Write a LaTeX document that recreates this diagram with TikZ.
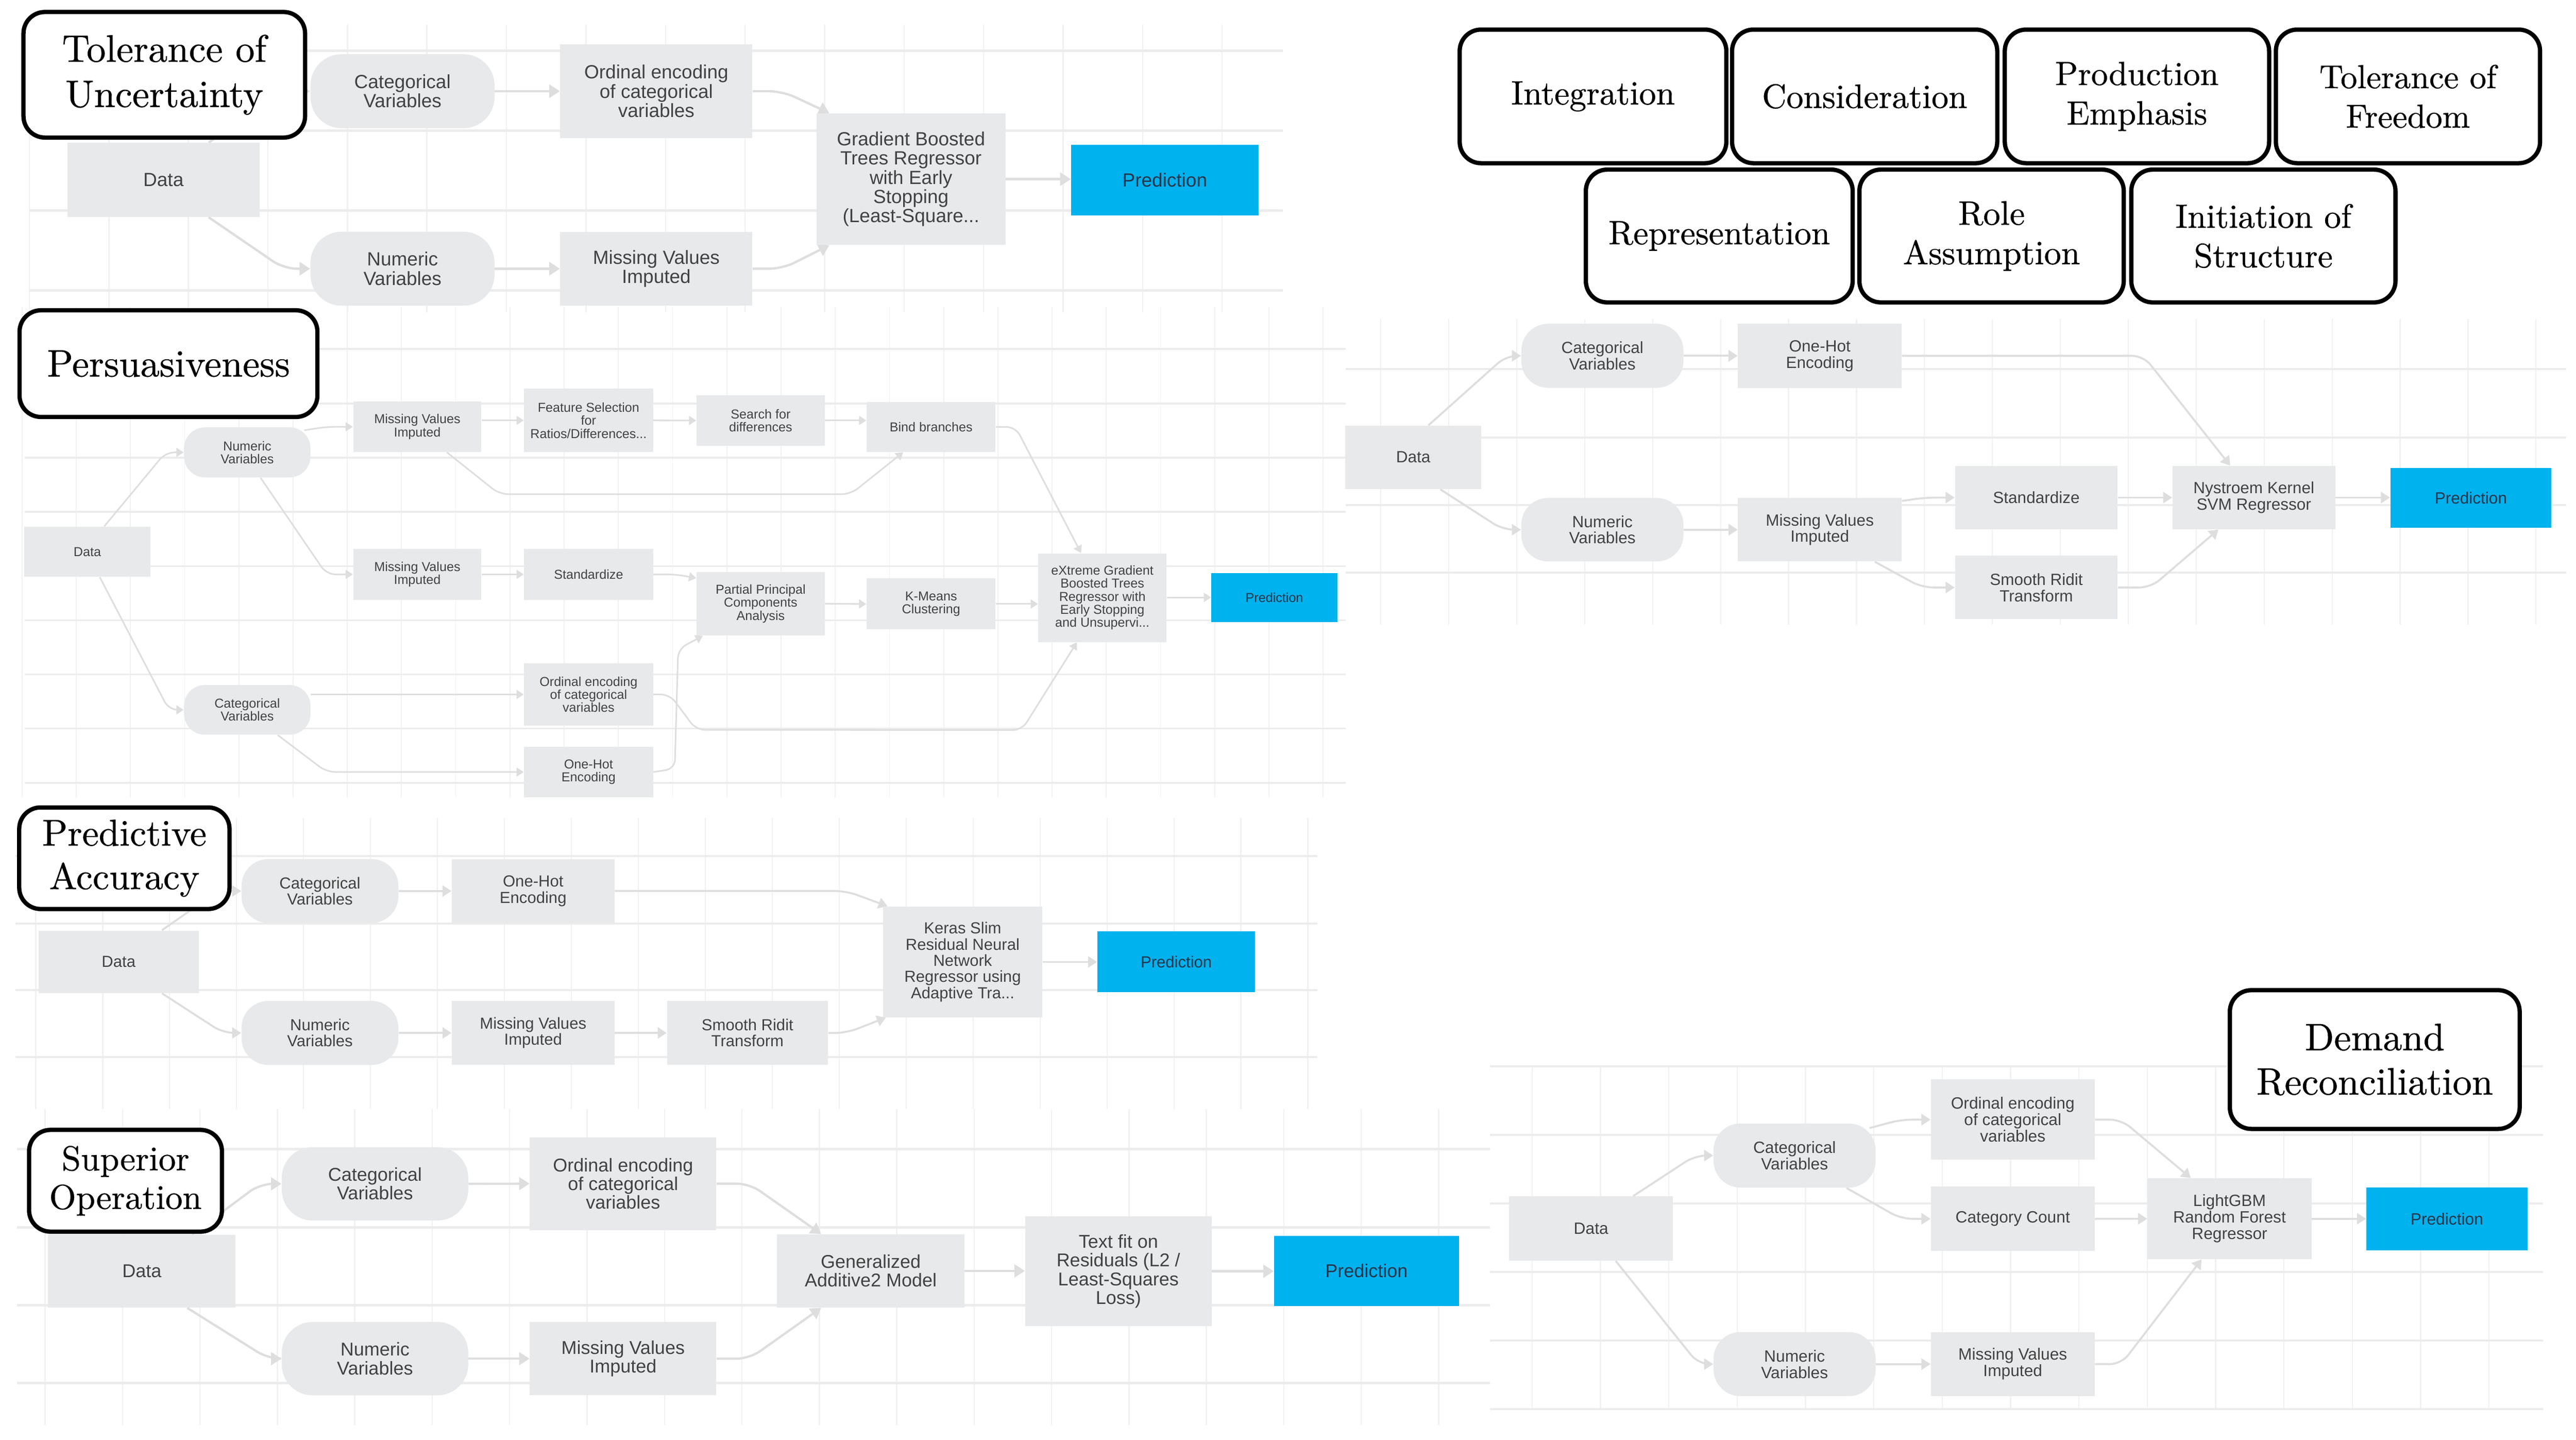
\documentclass[tikz,border=0pt]{standalone}
\usepackage{fontspec}
\setsansfont{Liberation Sans}
\newfontfamily\ttlfont{lmroman10-regular.otf}[FakeBold=0.6]
\usetikzlibrary{arrows.meta,calc}
\definecolor{nodefill}{RGB}{232,233,235}
\definecolor{predfill}{RGB}{0,178,238}
\definecolor{txt}{RGB}{66,66,66}
\definecolor{predtxt}{RGB}{35,52,72}
\definecolor{connc}{RGB}{222,222,222}
\definecolor{gridh}{RGB}{236,236,236}
\definecolor{gridv}{RGB}{241,241,241}
\pgfdeclarelayer{gridlayer}
\pgfdeclarelayer{connlayer}
\pgfsetlayers{gridlayer,connlayer,main}
\newcommand\setpanel[1]{%
 \pgfmathsetmacro\fs{11.6*#1}%
 \pgfmathsetmacro\bs{11.7*#1}%
 \pgfmathsetmacro\alen{6.5*#1}%
 \pgfmathsetmacro\awid{8*#1}%
 \pgfmathsetmacro\clw{1.4*#1}%
 \pgfmathsetmacro\hlw{1.6*#1}%
 \pgfmathsetmacro\vlw{0.8*#1}%
 \pgfmathsetmacro\rcr{8*#1}}
\newcommand\nb[7]{%
 \pgfmathsetmacro\cxx{(#3+#5)/2}%
 \pgfmathsetmacro\cyy{(#4+#6)/2}%
 \pgfmathsetmacro\ww{#5-#3}%
 \pgfmathsetmacro\hh{#6-#4}%
 \pgfmathsetmacro\rr{0.42*(#6-#4)}%
 \node[#2, minimum width=\ww pt, minimum height=\hh pt] (#1) at (\cxx,\cyy) {#7};}
\newcommand\tb[8]{%
 \pgfmathsetmacro\cxx{(#2+#4)/2}%
 \pgfmathsetmacro\cyy{(#3+#5)/2}%
 \pgfmathsetmacro\ww{#4-#2-2.6}%
 \pgfmathsetmacro\hh{#5-#3-2.6}%
 \node[titlebox, minimum width=\ww pt, minimum height=\hh pt, font=\ttlfont\fontsize{#6}{#7}\selectfont] (#1) at (\cxx,\cyy) {#8};}
\tikzset{
 gbox/.style={fill=nodefill, text=txt, inner sep=0pt, align=center, font=\fontsize{\fs}{\bs}\selectfont\sffamily},
 pill/.style={gbox, rounded corners=\rr pt},
 pred/.style={gbox, fill=predfill, text=predtxt},
 conn/.style={draw=connc, line width=\clw pt, rounded corners=\rcr pt, -{Triangle[length=\alen pt, width=\awid pt]}},
 gh/.style={draw=gridh, line width=\hlw pt},
 gv/.style={draw=gridv, line width=\vlw pt},
 titlebox/.style={draw=black, fill=white, line width=2.6pt, rounded corners=13pt, align=center, inner sep=0pt, text=black},
}
\begin{document}
\begin{tikzpicture}[x=1pt,y=-1pt]
\useasboundingbox (0,0) rectangle (1568,876);
\begin{pgfonlayer}{gridlayer}
\fill[white] (0,0) rectangle (1568,876);
\end{pgfonlayer}

% ================= Panel 1 =================
\setpanel{1}
\begin{pgfonlayer}{gridlayer}
\foreach \k in {0,...,15}{\pgfmathsetmacro\xx{17.9+48.4*\k}\draw[gv] (\xx,15) -- (\xx,190);}
\foreach \y in {31,79.6,128.2,176.8}{\draw[gh] (18,\y) -- (781,\y);}
\end{pgfonlayer}
\nb{p1cat}{pill}{189}{33}{301}{78}{Categorical\\Variables}
\nb{p1ord}{gbox}{341}{27}{458}{84}{Ordinal encoding\\of categorical\\variables}
\nb{p1data}{gbox}{41}{87}{158}{132}{Data}
\nb{p1gb}{gbox}{497}{69}{612}{149}{Gradient Boosted\\Trees Regressor\\with Early\\Stopping\\(Least-Square...}
\nb{p1pred}{pred}{652}{88}{766}{131}{Prediction}
\nb{p1num}{pill}{189}{141}{301}{186}{Numeric\\Variables}
\nb{p1mvi}{gbox}{341}{141}{458}{186}{Missing Values\\Imputed}
\begin{pgfonlayer}{connlayer}
\draw[conn] ([xshift=27.5]p1data.north) -- ($(p1cat.west)+(-17,0)$) -- (p1cat.west);
\draw[conn] ([xshift=27.5]p1data.south) -- ($(p1num.west)+(-16,0)$) -- (p1num.west);
\draw[conn] (p1cat.east) -- (p1ord.west);
\draw[conn] (p1num.east) -- (p1mvi.west);
\draw[conn] (p1ord.east) -- ($(p1ord.east)+(18,0)$) -- ([xshift=8]p1gb.north west);
\draw[conn] (p1mvi.east) -- ($(p1mvi.east)+(18,0)$) -- ([xshift=8]p1gb.south west);
\draw[conn] (p1gb.east) -- (p1gb.east -| p1pred.west);
\end{pgfonlayer}
\tb{t1}{13}{6}{187}{85}{23.3}{27.5}{Tolerance of\\Uncertainty}

% ================= Panel 2 =================
\setpanel{0.68}
\begin{pgfonlayer}{gridlayer}
\foreach \k in {0,...,24}{\pgfmathsetmacro\xx{13.4+33*\k}\draw[gv] (\xx,187) -- (\xx,485);}
\foreach \y in {212.3,245.6,278.5,311.4,344.5,377.4,410.3,443.2,476.3}{\draw[gh] (15,\y) -- (819,\y);}
\end{pgfonlayer}
\nb{p2num}{pill}{112}{260}{189}{290.5}{Numeric\\Variables}
\nb{p2mvia}{gbox}{215}{244.4}{293}{275}{Missing Values\\Imputed}
\nb{p2fs}{gbox}{319}{236.6}{397.5}{275}{Feature Selection\\for\\Ratios/Differences...}
\nb{p2srch}{gbox}{424}{240.4}{502}{271.3}{Search for\\differences}
\nb{p2bind}{gbox}{527.5}{244.6}{606}{275}{Bind branches}
\nb{p2data}{gbox}{14.8}{320.5}{91.5}{351}{Data}
\nb{p2mvib}{gbox}{215}{334}{293}{365}{Missing Values\\Imputed}
\nb{p2std}{gbox}{319}{334}{397.5}{365}{Standardize}
\nb{p2ppca}{gbox}{424}{348}{502}{386.7}{Partial Principal\\Components\\Analysis}
\nb{p2km}{gbox}{527.5}{352}{606}{383}{K-Means\\Clustering}
\nb{p2xgb}{gbox}{632}{336.7}{710}{390.6}{eXtreme Gradient\\Boosted Trees\\Regressor with\\Early Stopping\\and Unsupervi...}
\nb{p2pred}{pred}{737.4}{348.6}{814}{378.4}{Prediction}
\nb{p2cat}{pill}{112}{416.8}{189}{447}{Categorical\\Variables}
\nb{p2ord}{gbox}{319}{403.5}{397.5}{441.6}{Ordinal encoding\\of categorical\\variables}
\nb{p2oh}{gbox}{319}{454.5}{397.5}{485}{One-Hot\\Encoding}
\begin{pgfonlayer}{connlayer}
\draw[conn] ([xshift=10.3]p2data.north) -- ($(p2num.west)+(-11,0)$) -- (p2num.west);
\draw[conn] ([xshift=7.6]p2data.south) -- ($(p2cat.west)+(-9,0)$) -- (p2cat.west);
\draw[conn] ([xshift=-4,yshift=-2]p2num.north east) -- ($(p2mvia.west)+(-16,0)$) -- (p2mvia.west);
\draw[conn] ([xshift=8.1]p2num.south) -- ($(p2mvib.west)+(-16,0)$) -- (p2mvib.west);
\draw[conn] (p2mvia.east |- p2fs.west) -- (p2fs.west);
\draw[conn] (p2fs.east) -- (p2srch.west);
\draw[conn] (p2srch.east) -- (p2srch.east -| p2bind.west);
\draw[conn] ([xshift=18]p2mvia.south) -- ($(p2mvia.south)+(50,25.5)$) -- ($(p2bind.south)+(-49,25.5)$) -- ([xshift=-17]p2bind.south);
\draw[conn] (p2bind.east) -- ($(p2bind.east)+(12,0)$) -- ([xshift=-13]p2xgb.north);
\draw[conn] (p2mvib.east) -- (p2std.west);
\draw[conn] (p2std.east) -- ($(p2std.east)+(14,0)$) -- ([yshift=-4]p2ppca.north west);
\draw[conn] (p2ppca.east) -- (p2km.west);
\draw[conn] (p2km.east) -- (p2km.east -| p2xgb.west);
\draw[conn] (p2xgb.east |- p2pred.west) -- (p2pred.west);
\draw[conn] (p2cat.east |- p2ord.west) -- (p2ord.west);
\draw[conn] ([xshift=18.5]p2cat.south) -- ($(p2oh.west)+(-120,0)$) -- (p2oh.west);
\draw[conn] (p2ord.east) -- ($(p2ord.east)+(10,0)$) -- ($(p2ord.east)+(26,21.5)$) -- ($(p2xgb.south)+(-49,53.4)$) -- ([xshift=-15.5]p2xgb.south);
\draw[conn] (p2oh.east) -- ($(p2oh.east)+(13,-2)$) -- ($(p2ppca.south west)+(-11,8)$) -- ([xshift=4]p2ppca.south west);
\end{pgfonlayer}
\tb{t2}{10.6}{187.5}{194.5}{255}{23.3}{27.5}{Persuasiveness}

% ================= Panel 3 =================
\setpanel{0.84}
\begin{pgfonlayer}{gridlayer}
\foreach \k in {0,...,19}{\pgfmathsetmacro\xx{21.8+40.75*\k}\draw[gv] (\xx,497.6) -- (\xx,675);}
\foreach \y in {520.8,561.9,602.5,643.2}{\draw[gh] (9.3,\y) -- (802,\y);}
\end{pgfonlayer}
\nb{p3cat}{pill}{147}{522.7}{242.5}{561.6}{Categorical\\Variables}
\nb{p3oh}{gbox}{275}{522.7}{374}{561.6}{One-Hot\\Encoding}
\nb{p3data}{gbox}{23.4}{566.2}{121}{604.2}{Data}
\nb{p3keras}{gbox}{537.4}{551.6}{634.5}{619}{Keras Slim\\Residual Neural\\Network\\Regressor using\\Adaptive Tra...}
\nb{p3pred}{pred}{668}{566.7}{764}{603.7}{Prediction}
\nb{p3num}{pill}{147}{609}{242.5}{648}{Numeric\\Variables}
\nb{p3mvi}{gbox}{275}{609}{374}{648}{Missing Values\\Imputed}
\nb{p3sr}{gbox}{406}{609}{504}{648}{Smooth Ridit\\Transform}
\begin{pgfonlayer}{connlayer}
\draw[conn] ([xshift=26.4]p3data.north) -- ($(p3cat.west)+(-14,0)$) -- (p3cat.west);
\draw[conn] ([xshift=26.4]p3data.south) -- ($(p3num.west)+(-11,0)$) -- (p3num.west);
\draw[conn] (p3cat.east) -- (p3oh.west);
\draw[conn] (p3oh.east) -- ($(p3oh.east)+(141,0)$) -- ([xshift=3]p3keras.north west);
\draw[conn] (p3num.east) -- (p3mvi.west);
\draw[conn] (p3mvi.east) -- (p3sr.west);
\draw[conn] (p3sr.east) -- ($(p3sr.east)+(11,0)$) -- ([xshift=2]p3keras.south west);
\draw[conn] (p3keras.east) -- (p3keras.east -| p3pred.west);
\end{pgfonlayer}
\tb{t3}{10.4}{490}{141}{554.4}{22.7}{26.5}{Predictive\\Accuracy}

% ================= Panel 4 =================
\setpanel{0.973}
\begin{pgfonlayer}{gridlayer}
\foreach \k in {0,...,18}{\pgfmathsetmacro\xx{27.5+47.12*\k}\draw[gv] (\xx,675) -- (\xx,867);}
\foreach \y in {699.3,746.8,794.1,841.5}{\draw[gh] (10.5,\y) -- (907,\y);}
\end{pgfonlayer}
\nb{p4cat}{pill}{171.5}{698}{285}{742.6}{Categorical\\Variables}
\nb{p4ord}{gbox}{322.5}{692}{436}{748.4}{Ordinal encoding\\of categorical\\variables}
\nb{p4data}{gbox}{29.3}{751.3}{143.4}{795.6}{Data}
\nb{p4gam}{gbox}{473}{751}{587}{795.6}{Generalized\\Additive2 Model}
\nb{p4tf}{gbox}{624}{740}{737.5}{807}{Text fit on\\Residuals (L2 /\\Least-Squares\\Loss)}
\nb{p4pred}{pred}{775.5}{752}{888}{794.7}{Prediction}
\nb{p4num}{pill}{171.5}{804.4}{285}{849}{Numeric\\Variables}
\nb{p4mvi}{gbox}{322.5}{804.4}{436}{849}{Missing Values\\Imputed}
\begin{pgfonlayer}{connlayer}
\draw[conn] ([xshift=30.6]p4data.north) -- ($(p4cat.west)+(-13,0)$) -- (p4cat.west);
\draw[conn] ([xshift=27.6]p4data.south) -- ($(p4num.west)+(-8,0)$) -- (p4num.west);
\draw[conn] (p4cat.east) -- (p4ord.west);
\draw[conn] (p4num.east) -- (p4mvi.west);
\draw[conn] (p4ord.east) -- ($(p4ord.east)+(20,0)$) -- ([xshift=27]p4gam.north west);
\draw[conn] (p4mvi.east) -- ($(p4mvi.east)+(20,0)$) -- ([xshift=27]p4gam.south west);
\draw[conn] (p4gam.east) -- (p4gam.east -| p4tf.west);
\draw[conn] (p4tf.east) -- (p4tf.east -| p4pred.west);
\end{pgfonlayer}
\tb{t4}{16.4}{686.2}{136.4}{750.7}{21}{23.5}{Superior\\Operation}

% ================= Panel 6 (top right) =================
\setpanel{0.852}
\begin{pgfonlayer}{gridlayer}
\foreach \k in {0,...,17}{\pgfmathsetmacro\xx{840.5+41.36*\k}\draw[gv] (\xx,194) -- (\xx,380);}
\foreach \y in {224.6,266.3,307.3,348.5}{\draw[gh] (819,\y) -- (1562,\y);}
\end{pgfonlayer}
\nb{p6cat}{pill}{926}{197}{1024.7}{236}{Categorical\\Variables}
\nb{p6oh}{gbox}{1057.9}{197}{1157.5}{236}{One-Hot\\Encoding}
\nb{p6data}{gbox}{818.9}{259}{901.6}{297.5}{Data}
\nb{p6std}{gbox}{1190}{283.5}{1289}{322}{Standardize}
\nb{p6nys}{gbox}{1322.4}{283.5}{1421.4}{322}{Nystroem Kernel\\SVM Regressor}
\nb{p6pred}{pred}{1455}{284.7}{1553}{321}{Prediction}
\nb{p6num}{pill}{926}{303}{1024.7}{341.6}{Numeric\\Variables}
\nb{p6mvi}{gbox}{1057.9}{303}{1157.5}{341.6}{Missing Values\\Imputed}
\nb{p6sr}{gbox}{1190}{338.2}{1289}{376.7}{Smooth Ridit\\Transform}
\begin{pgfonlayer}{connlayer}
\draw[conn] ([xshift=9.2]p6data.north) -- ($(p6cat.west)+(-9,0)$) -- (p6cat.west);
\draw[conn] ([xshift=16.4]p6data.south) -- ($(p6num.west)+(-11,0)$) -- (p6num.west);
\draw[conn] (p6cat.east) -- (p6oh.west);
\draw[conn] (p6oh.east) -- ($(p6oh.east)+(147,0)$) -- ([xshift=-14.4]p6nys.north);
\draw[conn] (p6num.east) -- (p6mvi.west);
\draw[conn] ([yshift=-2]p6mvi.north east) -- ($(p6std.west)+(-18,0)$) -- (p6std.west);
\draw[conn] ([xshift=-16.5]p6mvi.south east) -- ($(p6sr.west)+(-20,0)$) -- (p6sr.west);
\draw[conn] (p6std.east) -- (p6nys.west);
\draw[conn] (p6sr.east) -- ($(p6sr.east)+(20,0)$) -- ([xshift=-21.6]p6nys.south);
\draw[conn] (p6nys.east) -- (p6nys.east -| p6pred.west);
\end{pgfonlayer}
\tb{t5}{887.2}{16.7}{1052.1}{100.6}{20.6}{24}{Integration}
\tb{t6}{1053}{16.7}{1217}{100.6}{20.6}{24}{Consideration}
\tb{t7}{1219}{16.7}{1382.5}{100.6}{20.4}{24}{Production\\Emphasis}
\tb{t8}{1384}{16.7}{1547.4}{100.6}{20.2}{24}{Tolerance of\\Freedom}
\tb{t9}{964}{101.9}{1129}{185.3}{20.6}{24}{Representation}
\tb{t10}{1130.5}{101.9}{1294}{185.3}{20.7}{24}{Role\\Assumption}
\tb{t11}{1296}{101.9}{1459.4}{185.3}{20.5}{24}{Initiation of\\Structure}

% ================= Panel 7 (bottom right) =================
\setpanel{0.858}
\begin{pgfonlayer}{gridlayer}
\foreach \k in {0,...,14}{\pgfmathsetmacro\xx{932.6+41.6*\k}\draw[gv] (\xx,648.8) -- (\xx,857.3);}
\foreach \y in {648.8,690.5,732.2,773.9,815.6,857.3}{\draw[gh] (907,\y) -- (1548,\y);}
\end{pgfonlayer}
\nb{p7cat}{pill}{1043}{683.6}{1141.7}{722.6}{Categorical\\Variables}
\nb{p7ord}{gbox}{1175.3}{656.8}{1275}{705.7}{Ordinal encoding\\of categorical\\variables}
\nb{p7data}{gbox}{918.6}{728}{1018.3}{767}{Data}
\nb{p7cnt}{gbox}{1175.3}{722}{1275}{761.2}{Category Count}
\nb{p7lgbm}{gbox}{1307.2}{717}{1407}{766.1}{LightGBM\\Random Forest\\Regressor}
\nb{p7pred}{pred}{1440.4}{722.6}{1538.4}{760.7}{Prediction}
\nb{p7num}{pill}{1043}{810.5}{1141.7}{849.5}{Numeric\\Variables}
\nb{p7mvi}{gbox}{1175.3}{810.5}{1275}{849.5}{Missing Values\\Imputed}
\begin{pgfonlayer}{connlayer}
\draw[conn] ([xshift=25.6]p7data.north) -- ($(p7cat.west)+(-11,0)$) -- (p7cat.west);
\draw[conn] ([xshift=15]p7data.south) -- ($(p7num.west)+(-9,0)$) -- (p7num.west);
\draw[conn] ([xshift=-4,yshift=-3]p7cat.north east) -- ($(p7ord.west)+(-18,0)$) -- (p7ord.west);
\draw[conn] ([xshift=-18]p7cat.south east) -- ($(p7cnt.west)+(-18,0)$) -- (p7cnt.west);
\draw[conn] (p7ord.east) -- ($(p7ord.east)+(16,0)$) -- ([xshift=-23.6]p7lgbm.north);
\draw[conn] (p7cnt.east) -- (p7lgbm.west);
\draw[conn] (p7num.east) -- (p7mvi.west);
\draw[conn] (p7mvi.east) -- ($(p7mvi.east)+(16,0)$) -- ([xshift=-17]p7lgbm.south);
\draw[conn] (p7lgbm.east) -- (p7lgbm.east -| p7pred.west);
\end{pgfonlayer}
\tb{t12}{1356}{601.2}{1535}{688.2}{23.3}{27}{Demand\\Reconciliation}
\end{tikzpicture}
\end{document}
